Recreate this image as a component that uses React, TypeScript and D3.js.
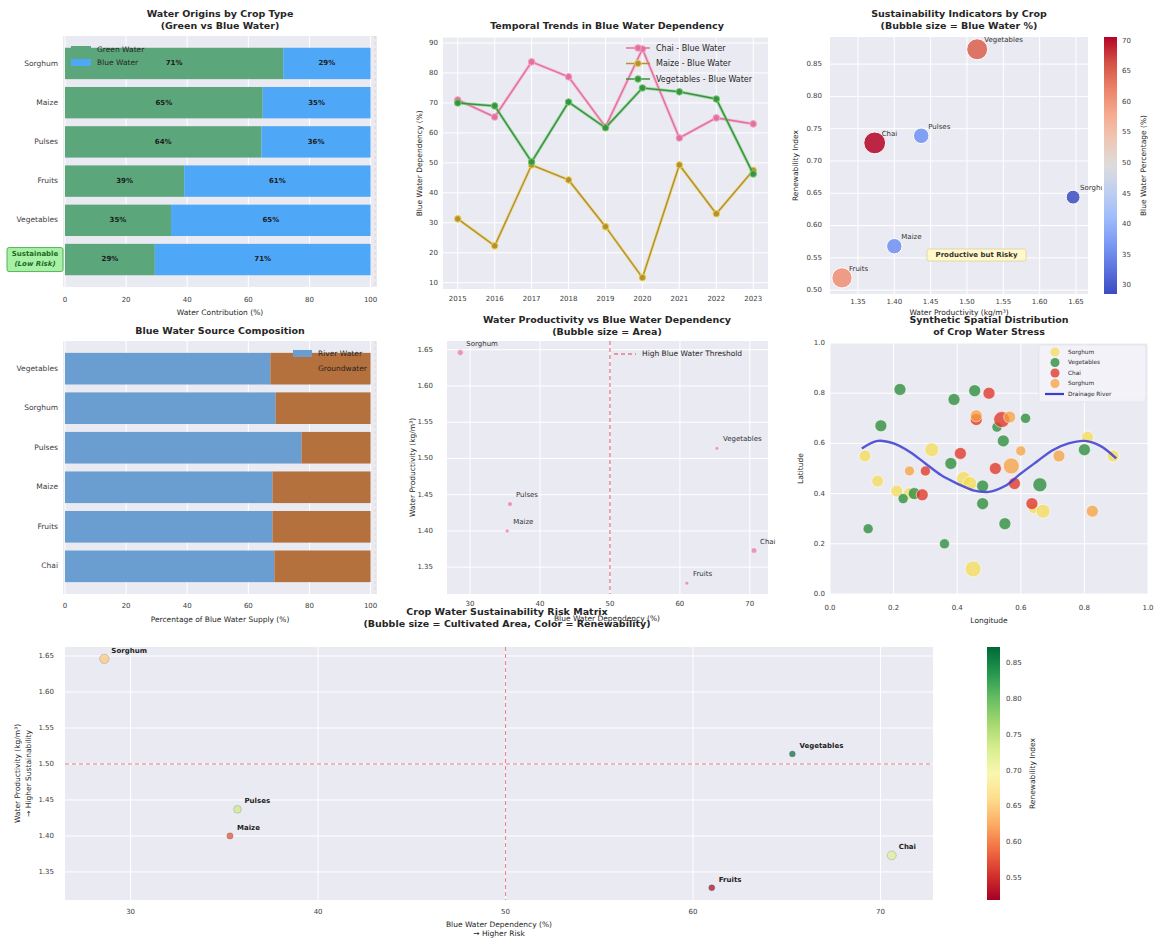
import React from "react";
import * as d3 from "d3";

const FONT = "'DejaVu Sans', Verdana, sans-serif";
const AX_BG = "#EAEAF2";
const INK = "#262626";
const TICK_INK = "#3d3d3d";

// ---- crop-level indicators ----
const crops = ["Sorghum", "Maize", "Pulses", "Fruits", "Vegetables", "Chai"];
const blueWaterPct = [28.6, 35.3, 35.7, 61.0, 65.3, 70.6];
const greenWaterPct = [71.4, 64.7, 64.3, 39.0, 34.7, 29.4];
const waterProductivity = [1.646, 1.4, 1.437, 1.328, 1.514, 1.373];
const renewabilityIndex = [0.644, 0.568, 0.739, 0.519, 0.873, 0.728];
const cultivatedArea = [36, 16, 24, 15, 14, 32];

// ---- blue water sources ----
const sourceCrops = ["Vegetables", "Sorghum", "Pulses", "Maize", "Fruits", "Chai"];
const riverWaterPct = [67.2, 68.9, 77.4, 67.9, 67.9, 68.5];
const groundwaterPct = [32.8, 31.1, 22.6, 32.1, 32.1, 31.5];

// ---- yearly blue water dependency ----
const years = [2015, 2016, 2017, 2018, 2019, 2020, 2021, 2022, 2023];
const chaiTrend = [71.0, 65.3, 83.7, 78.7, 62.0, 88.0, 58.3, 65.0, 63.0];
const maizeTrend = [31.3, 22.3, 49.3, 44.3, 28.7, 11.7, 49.3, 33.0, 47.5];
const vegetablesTrend = [70.0, 69.0, 50.3, 70.3, 61.7, 75.0, 73.7, 71.3, 46.3];

// ---- synthetic spatial sample: [longitude, latitude, stress] ----
const spatialYellow: [number, number, number][] = [
  [0.11, 0.55, 0.56], [0.15, 0.45, 0.56], [0.21, 0.41, 0.56], [0.25, 0.4, 0.56],
  [0.32, 0.575, 0.77], [0.42, 0.46, 0.77], [0.44, 0.44, 0.77], [0.45, 0.1, 1.0],
  [0.64, 0.34, 0.4], [0.67, 0.33, 0.77], [0.81, 0.625, 0.56], [0.89, 0.55, 0.56],
];
const spatialGreen: [number, number, number][] = [
  [0.12, 0.26, 0.4], [0.16, 0.67, 0.56], [0.22, 0.815, 0.56], [0.23, 0.38, 0.4],
  [0.265, 0.4, 0.56], [0.36, 0.2, 0.4], [0.38, 0.52, 0.56], [0.39, 0.775, 0.56],
  [0.455, 0.81, 0.56], [0.48, 0.43, 0.56], [0.48, 0.36, 0.56], [0.525, 0.665, 0.4],
  [0.545, 0.61, 0.56], [0.55, 0.28, 0.56], [0.615, 0.7, 0.4], [0.66, 0.435, 0.77],
  [0.8, 0.575, 0.56],
];
const spatialRed: [number, number, number][] = [
  [0.29, 0.395, 0.56], [0.3, 0.49, 0.4], [0.41, 0.56, 0.56], [0.46, 0.695, 0.56],
  [0.5, 0.8, 0.56], [0.52, 0.5, 0.56], [0.54, 0.695, 1.0], [0.58, 0.44, 0.56],
  [0.635, 0.36, 0.56],
];
const spatialOrange: [number, number, number][] = [
  [0.25, 0.49, 0.4], [0.46, 0.71, 0.56], [0.565, 0.705, 0.56], [0.57, 0.51, 1.0],
  [0.6, 0.57, 0.4], [0.72, 0.55, 0.56], [0.825, 0.33, 0.56],
];
const riverLon = [0.1, 0.15, 0.2, 0.25, 0.3, 0.35, 0.4, 0.45, 0.5, 0.55, 0.6, 0.65, 0.7, 0.75, 0.8, 0.85, 0.9];
const riverLat = [0.58, 0.61, 0.6, 0.567, 0.52, 0.473, 0.44, 0.413, 0.407, 0.43, 0.48, 0.527, 0.573, 0.6, 0.61, 0.59, 0.54];

// ---- tick values ----
const pctTicks = [0, 20, 40, 60, 80, 100];
const trendTicks = [10, 20, 30, 40, 50, 60, 70, 80, 90];
const prodTicks = [1.35, 1.4, 1.45, 1.5, 1.55, 1.6, 1.65];
const renewTicks = [0.5, 0.55, 0.6, 0.65, 0.7, 0.75, 0.8, 0.85];
const renewBarTicks = [0.55, 0.6, 0.65, 0.7, 0.75, 0.8, 0.85];
const blueBarTicks = [30, 35, 40, 45, 50, 55, 60, 65, 70];
const depTicks = [30, 40, 50, 60, 70];
const unitTicks = [0, 0.2, 0.4, 0.6, 0.8, 1.0];

const coolwarm = d3
  .scaleLinear<string>()
  .domain([0, 1 / 6, 2 / 6, 3 / 6, 4 / 6, 5 / 6, 1])
  .range(["#3b4cc0", "#6f92f3", "#aac7fd", "#dddcdc", "#f7b89c", "#e7745b", "#b40426"])
  .interpolate(d3.interpolateLab);

type Box = { l: number; r: number; t: number; b: number };

function Txt(p: any) {
  return <text fontFamily={FONT} fill={INK} {...p} />;
}

function Title({ x, lines, y }: { x: number; lines: string[]; y: number }) {
  return (
    <g>
      {lines.map((s, i) => (
        <Txt key={i} x={x} y={y + i * 12} textAnchor="middle" fontSize={9.5} fontWeight="bold" dominantBaseline="middle">
          {s}
        </Txt>
      ))}
    </g>
  );
}

function AxesBg({ box }: { box: Box }) {
  return <rect x={box.l} y={box.t} width={box.r - box.l} height={box.b - box.t} fill={AX_BG} />;
}

function VGrid({ box, xs }: { box: Box; xs: number[] }) {
  return (
    <g>
      {xs.map((x, i) => (
        <line key={i} x1={x} x2={x} y1={box.t} y2={box.b} stroke="#fff" strokeWidth={1} />
      ))}
    </g>
  );
}
function HGrid({ box, ys }: { box: Box; ys: number[] }) {
  return (
    <g>
      {ys.map((y, i) => (
        <line key={i} y1={y} y2={y} x1={box.l} x2={box.r} stroke="#fff" strokeWidth={1} />
      ))}
    </g>
  );
}
function XLabels({ vals, sx, y, fmt }: { vals: number[]; sx: (v: number) => number; y: number; fmt: (v: number) => string }) {
  return (
    <g>
      {vals.map((v, i) => (
        <Txt key={i} x={sx(v)} y={y} textAnchor="middle" fontSize={7} fill={TICK_INK} dominantBaseline="middle">
          {fmt(v)}
        </Txt>
      ))}
    </g>
  );
}
function YLabels({ vals, sy, x, fmt, anchor = "end" }: { vals: number[]; sy: (v: number) => number; x: number; fmt: (v: number) => string; anchor?: string }) {
  return (
    <g>
      {vals.map((v, i) => (
        <Txt key={i} x={x} y={sy(v)} textAnchor={anchor} fontSize={7} fill={TICK_INK} dominantBaseline="middle">
          {fmt(v)}
        </Txt>
      ))}
    </g>
  );
}
function RotLabel({ x, y, children, size = 7.5 }: any) {
  return (
    <Txt x={x} y={y} transform={`rotate(-90 ${x} ${y})`} textAnchor="middle" fontSize={size} fill={INK} dominantBaseline="middle">
      {children}
    </Txt>
  );
}

const f2 = (v: number) => v.toFixed(2);
const f1 = (v: number) => v.toFixed(1);
const f0 = (v: number) => String(v);

// ---------------- panel 1: green vs blue ----------------
function WaterOrigins() {
  const box: Box = { l: 63, r: 377, t: 36, b: 287 };
  const x = d3.scaleLinear().domain([-0.65, 102.1]).range([box.l, box.r]);
  const y = d3.scaleLinear().domain([-0.7, 5.7]).range([box.t, box.b]);
  const bh = 0.8 * (y(1) - y(0));
  return (
    <g>
      <Title x={220} y={14} lines={["Water Origins by Crop Type", "(Green vs Blue Water)"]} />
      <AxesBg box={box} />
      <VGrid box={box} xs={pctTicks.map(x)} />
      <line x1={x(101.5)} x2={x(101.5)} y1={box.t} y2={box.b} stroke="#f4a460" strokeOpacity={0.35} strokeDasharray="3,3" />
      {crops.map((c, i) => (
        <g key={c}>
          <rect x={x(0)} y={y(i) - bh / 2} width={x(greenWaterPct[i]) - x(0)} height={bh} fill="#5ba67a" />
          <rect x={x(greenWaterPct[i])} y={y(i) - bh / 2} width={x(100) - x(greenWaterPct[i])} height={bh} fill="#4ea8f7" />
          <Txt x={x(greenWaterPct[i] / 2)} y={y(i)} textAnchor="middle" dominantBaseline="middle" fontSize={7} fontWeight="bold" fill="#1b1b1b">
            {Math.round(greenWaterPct[i])}%
          </Txt>
          <Txt x={x(greenWaterPct[i] + blueWaterPct[i] / 2)} y={y(i)} textAnchor="middle" dominantBaseline="middle" fontSize={7} fontWeight="bold" fill="#1b1b1b">
            {Math.round(blueWaterPct[i])}%
          </Txt>
          {i < crops.length - 1 && (
            <Txt x={58} y={y(i)} textAnchor="end" dominantBaseline="middle" fontSize={7.5} fill={TICK_INK}>
              {c}
            </Txt>
          )}
        </g>
      ))}
      {/* highlighted low-risk row */}
      <rect x={7} y={y(5) - 12} width={56} height={24} rx={2} fill="#90ee90" fillOpacity={0.8} stroke="#3ea03e" strokeWidth={0.8} />
      <Txt x={35} y={y(5) - 5} textAnchor="middle" dominantBaseline="middle" fontSize={7} fontWeight="bold" fill="#1e6b1e">Sustainable</Txt>
      <Txt x={35} y={y(5) + 5} textAnchor="middle" dominantBaseline="middle" fontSize={7} fontWeight="bold" fontStyle="italic" fill="#1e6b1e">(Low Risk)</Txt>
      {/* legend */}
      <rect x={71} y={46} width={20} height={7} fill="#5ba67a" />
      <Txt x={97} y={50} dominantBaseline="middle" fontSize={7.5}>Green Water</Txt>
      <rect x={71} y={59} width={20} height={7} fill="#4ea8f7" />
      <Txt x={97} y={63} dominantBaseline="middle" fontSize={7.5}>Blue Water</Txt>
      <XLabels vals={pctTicks} sx={x} y={300} fmt={f0} />
      <Txt x={(box.l + box.r) / 2} y={313} textAnchor="middle" dominantBaseline="middle" fontSize={7.5}>Water Contribution (%)</Txt>
    </g>
  );
}

// ---------------- panel 2: temporal trends ----------------
function TemporalTrends() {
  const box: Box = { l: 443, r: 768, t: 37.6, b: 289 };
  const x = d3.scaleLinear().domain([2014.6, 2023.4]).range([box.l, box.r]);
  const y = d3.scaleLinear().domain([7.9, 91.8]).range([box.b, box.t]);
  const line = d3.line<number>().x((_, i) => x(years[i])).y((d) => y(d));
  const series = [
    { name: "Chai - Blue Water", vals: chaiTrend, col: "#e2719c", halo: "#f5a3c2" },
    { name: "Maize - Blue Water", vals: maizeTrend, col: "#b39236", halo: "#f0d34a" },
    { name: "Vegetables - Blue Water", vals: vegetablesTrend, col: "#3f8f45", halo: "#66d46a" },
  ];
  return (
    <g>
      <Title x={607} y={26} lines={["Temporal Trends in Blue Water Dependency"]} />
      <AxesBg box={box} />
      <VGrid box={box} xs={years.map(x)} />
      <HGrid box={box} ys={trendTicks.map(y)} />
      {series.map((s) => (
        <g key={s.name}>
          <path d={line(s.vals) || ""} fill="none" stroke={s.halo} strokeWidth={3.2} strokeOpacity={0.55} />
          <path d={line(s.vals) || ""} fill="none" stroke={s.col} strokeWidth={1.5} />
          {s.vals.map((v, i) => (
            <circle key={i} cx={x(years[i])} cy={y(v)} r={3.3} fill={s.col} stroke={s.halo} strokeWidth={1} />
          ))}
        </g>
      ))}
      {series.map((s, i) => (
        <g key={s.name}>
          <line x1={626} x2={650} y1={48 + i * 15.5} y2={48 + i * 15.5} stroke={s.col} strokeWidth={1.5} />
          <circle cx={638} cy={48 + i * 15.5} r={3.3} fill={s.col} stroke={s.halo} strokeWidth={1} />
          <Txt x={656} y={48 + i * 15.5} dominantBaseline="middle" fontSize={8}>{s.name}</Txt>
        </g>
      ))}
      <XLabels vals={years} sx={x} y={299} fmt={f0} />
      <YLabels vals={trendTicks} sy={y} x={438} fmt={f0} />
      <RotLabel x={420} y={(box.t + box.b) / 2}>Blue Water Dependency (%)</RotLabel>
    </g>
  );
}

// ---------------- panel 3: sustainability bubbles ----------------
function SustainabilityIndicators() {
  const box: Box = { l: 830, r: 1088, t: 37, b: 294 };
  const x = d3.scaleLinear().domain([1.3115, 1.6665]).range([box.l, box.r]);
  const y = d3.scaleLinear().domain([0.494, 0.892]).range([box.b, box.t]);
  const [bmin, bmax] = d3.extent(blueWaterPct) as [number, number];
  const norm = d3.scaleLinear().domain([bmin, bmax]).range([0, 1]);
  const cb = d3.scaleLinear().domain([bmin, bmax]).range([box.b, box.t]);
  const order = d3.range(crops.length);
  return (
    <g>
      <defs>
        <linearGradient id="cwGrad" x1="0" y1="1" x2="0" y2="0">
          {d3.range(0, 1.001, 0.1).map((t) => (
            <stop key={t} offset={t} stopColor={coolwarm(t)} />
          ))}
        </linearGradient>
        <clipPath id="p3clip">
          <rect x={box.l - 40} y={0} width={1102 - box.l + 40} height={320} />
        </clipPath>
      </defs>
      <Title x={959} y={14} lines={["Sustainability Indicators by Crop", "(Bubble size = Blue Water %)"]} />
      <AxesBg box={box} />
      <VGrid box={box} xs={prodTicks.map(x)} />
      <HGrid box={box} ys={renewTicks.map(y)} />
      <g clipPath="url(#p3clip)">
        {order.map((i) => (
          <g key={crops[i]}>
            <circle cx={x(waterProductivity[i])} cy={y(renewabilityIndex[i])} r={1.3 * Math.sqrt(blueWaterPct[i])} fill={coolwarm(norm(blueWaterPct[i]))} fillOpacity={0.85} stroke="#fff" strokeWidth={1} />
            <Txt x={x(waterProductivity[i]) + 7} y={y(renewabilityIndex[i]) - 7} fontSize={7} fill="#333">{crops[i]}</Txt>
          </g>
        ))}
      </g>
      <rect x={927} y={249} width={99} height={12} rx={2} fill="#fff8c8" stroke="#d8c88a" strokeWidth={0.6} />
      <Txt x={976.5} y={255.5} textAnchor="middle" dominantBaseline="middle" fontSize={7} fontWeight="bold" fill="#333">Productive but Risky</Txt>
      <XLabels vals={prodTicks} sx={x} y={302} fmt={f2} />
      <YLabels vals={renewTicks} sy={y} x={822} fmt={f2} />
      <RotLabel x={796} y={(box.t + box.b) / 2}>Renewability Index</RotLabel>
      <Txt x={959} y={313} textAnchor="middle" dominantBaseline="middle" fontSize={7.5}>Water Productivity (kg/m³)</Txt>
      {/* colour bar */}
      <rect x={1104} y={box.t} width={13} height={box.b - box.t} fill="url(#cwGrad)" />
      <YLabels vals={blueBarTicks} sy={cb} x={1122} fmt={f0} anchor="start" />
      <RotLabel x={1144} y={(box.t + box.b) / 2}>Blue Water Percentage (%)</RotLabel>
    </g>
  );
}

// ---------------- panel 4: blue water sources ----------------
function SourceComposition() {
  const box: Box = { l: 63, r: 377, t: 341, b: 594 };
  const x = d3.scaleLinear().domain([-0.65, 102.1]).range([box.l, box.r]);
  const y = d3.scaleLinear().domain([-0.7, 5.7]).range([box.t, box.b]);
  const bh = 0.8 * (y(1) - y(0));
  return (
    <g>
      <Title x={220} y={331} lines={["Blue Water Source Composition"]} />
      <AxesBg box={box} />
      <VGrid box={box} xs={pctTicks.map(x)} />
      <line x1={x(101.5)} x2={x(101.5)} y1={box.t} y2={box.b} stroke="#f4a460" strokeOpacity={0.3} strokeDasharray="3,3" />
      {sourceCrops.map((c, i) => (
        <g key={c}>
          <rect x={x(0)} y={y(i) - bh / 2} width={x(riverWaterPct[i]) - x(0)} height={bh} fill="#6a9dd0" />
          <rect x={x(riverWaterPct[i])} y={y(i) - bh / 2} width={x(riverWaterPct[i] + groundwaterPct[i]) - x(riverWaterPct[i])} height={bh} fill="#b4703d" />
          <Txt x={58} y={y(i)} textAnchor="end" dominantBaseline="middle" fontSize={7.5} fill={TICK_INK}>{c}</Txt>
        </g>
      ))}
      <rect x={293} y={350} width={19} height={7} fill="#6a9dd0" />
      <Txt x={318} y={354} dominantBaseline="middle" fontSize={7.5}>River Water</Txt>
      <rect x={293} y={365} width={19} height={7} fill="#b4703d" />
      <Txt x={318} y={369} dominantBaseline="middle" fontSize={7.5}>Groundwater</Txt>
      <XLabels vals={pctTicks} sx={x} y={606} fmt={f0} />
      <Txt x={(box.l + box.r) / 2} y={620} textAnchor="middle" dominantBaseline="middle" fontSize={7.5}>Percentage of Blue Water Supply (%)</Txt>
    </g>
  );
}

// ---------------- panel 5: productivity vs dependency ----------------
function ProductivityVsDependency() {
  const box: Box = { l: 447, r: 768, t: 341, b: 594 };
  const x = d3.scaleLinear().domain([26.7, 72.6]).range([box.l, box.r]);
  const y = d3.scaleLinear().domain([1.313, 1.662]).range([box.b, box.t]);
  const r = d3.scaleSqrt().domain([0, 40]).range([0, 3.2]);
  return (
    <g>
      <Title x={607} y={320} lines={["Water Productivity vs Blue Water Dependency", "(Bubble size = Area)"]} />
      <AxesBg box={box} />
      <VGrid box={box} xs={depTicks.map(x)} />
      <HGrid box={box} ys={prodTicks.map(y)} />
      <line x1={x(50)} x2={x(50)} y1={box.t} y2={box.b} stroke="#e0405a" strokeOpacity={0.8} strokeDasharray="4,3" strokeWidth={1.1} />
      {crops.map((c, i) => (
        <g key={c}>
          <circle cx={x(blueWaterPct[i])} cy={y(waterProductivity[i])} r={r(cultivatedArea[i])} fill="#e77aa8" fillOpacity={0.75} stroke="#fff" strokeWidth={0.5} />
          <Txt x={x(blueWaterPct[i]) + 6} y={y(waterProductivity[i]) - 7} fontSize={7} fill="#333">{c}</Txt>
        </g>
      ))}
      <line x1={614} x2={636} y1={354} y2={354} stroke="#e0405a" strokeDasharray="4,3" strokeWidth={1.1} />
      <Txt x={642} y={354} dominantBaseline="middle" fontSize={7.5}>High Blue Water Threshold</Txt>
      <XLabels vals={depTicks} sx={x} y={604} fmt={f0} />
      <YLabels vals={prodTicks} sy={y} x={433} fmt={f2} />
      <RotLabel x={413} y={(box.t + box.b) / 2}>Water Productivity (kg/m³)</RotLabel>
      <Txt x={607} y={619} textAnchor="middle" dominantBaseline="middle" fontSize={7.5}>Blue Water Dependency (%)</Txt>
    </g>
  );
}

// ---------------- panel 6: spatial distribution ----------------
function SpatialDistribution() {
  const box: Box = { l: 830, r: 1148, t: 343, b: 594 };
  const x = d3.scaleLinear().domain([0, 1]).range([box.l, box.r]);
  const y = d3.scaleLinear().domain([0, 1]).range([box.b, box.t]);
  const r = d3.scaleSqrt().domain([0, 1]).range([0, 8]);
  const groups = [
    { label: "Sorghum", pts: spatialYellow, col: "#f4dc4c", op: 0.7 },
    { label: "Vegetables", pts: spatialGreen, col: "#2f8f3e", op: 0.8 },
    { label: "Chai", pts: spatialRed, col: "#e0392c", op: 0.8 },
    { label: "Sorghum", pts: spatialOrange, col: "#f5a03c", op: 0.75 },
  ];
  const river = d3.line<number>().curve(d3.curveCatmullRom).x((_, i) => x(riverLon[i])).y((d) => y(d));
  return (
    <g>
      <Title x={989} y={320} lines={["Synthetic Spatial Distribution", "of Crop Water Stress"]} />
      <AxesBg box={box} />
      <VGrid box={box} xs={unitTicks.map(x)} />
      <HGrid box={box} ys={unitTicks.map(y)} />
      {groups.map((g, gi) => (
        <g key={gi}>
          {g.pts.map((p, i) => (
            <circle key={i} cx={x(p[0])} cy={y(p[1])} r={r(p[2])} fill={g.col} fillOpacity={g.op} stroke="#fff" strokeOpacity={0.7} strokeWidth={0.8} />
          ))}
        </g>
      ))}
      <path d={river(riverLat) || ""} fill="none" stroke="#3b3bd4" strokeWidth={2.4} strokeOpacity={0.85} />
      {/* legend */}
      <rect x={1039} y={345} width={107} height={57} rx={2} fill="#f4f4f9" fillOpacity={0.8} stroke="#dcdce6" strokeWidth={0.6} />
      {groups.map((g, i) => (
        <g key={i}>
          <circle cx={1055} cy={352 + i * 10.5} r={4.5} fill={g.col} fillOpacity={g.op} />
          <Txt x={1068} y={352 + i * 10.5} dominantBaseline="middle" fontSize={5.8}>{g.label}</Txt>
        </g>
      ))}
      <line x1={1045} x2={1064} y1={394} y2={394} stroke="#3b3bd4" strokeWidth={2.2} />
      <Txt x={1068} y={394} dominantBaseline="middle" fontSize={5.8}>Drainage River</Txt>
      <XLabels vals={unitTicks} sx={x} y={608} fmt={f1} />
      <YLabels vals={unitTicks} sy={y} x={825} fmt={f1} />
      <RotLabel x={801} y={(box.t + box.b) / 2}>Latitude</RotLabel>
      <Txt x={989} y={621} textAnchor="middle" dominantBaseline="middle" fontSize={7.5}>Longitude</Txt>
    </g>
  );
}

// ---------------- bottom: risk matrix ----------------
function RiskMatrix() {
  const box: Box = { l: 65, r: 933, t: 647, b: 900 };
  const x = d3.scaleLinear().domain([26.5, 72.8]).range([box.l, box.r]);
  const y = d3.scaleLinear().domain([1.311, 1.6625]).range([box.b, box.t]);
  const [rmin, rmax] = d3.extent(renewabilityIndex) as [number, number];
  const norm = d3.scaleLinear().domain([rmin, rmax]).range([0, 1]);
  const cb = d3.scaleLinear().domain([rmin, rmax]).range([box.b, box.t]);
  const r = d3.scaleSqrt().domain([0, 40]).range([0, 5]);
  return (
    <g>
      <defs>
        <linearGradient id="rygGrad" x1="0" y1="1" x2="0" y2="0">
          {d3.range(0, 1.001, 0.1).map((t) => (
            <stop key={t} offset={t} stopColor={d3.interpolateRdYlGn(t)} />
          ))}
        </linearGradient>
      </defs>
      <AxesBg box={box} />
      <VGrid box={box} xs={depTicks.map(x)} />
      <HGrid box={box} ys={prodTicks.map(y)} />
      <line x1={x(50)} x2={x(50)} y1={box.t} y2={box.b} stroke="#e8505e" strokeOpacity={0.75} strokeDasharray="4,3" strokeWidth={1} />
      <line x1={box.l} x2={box.r} y1={y(1.5)} y2={y(1.5)} stroke="#e8505e" strokeOpacity={0.75} strokeDasharray="4,3" strokeWidth={1} />
      {crops.map((c, i) => (
        <g key={c}>
          <circle cx={x(blueWaterPct[i])} cy={y(waterProductivity[i])} r={r(cultivatedArea[i])} fill={d3.interpolateRdYlGn(norm(renewabilityIndex[i]))} fillOpacity={0.7} stroke="#444" strokeOpacity={0.4} strokeWidth={0.5} />
          <Txt x={x(blueWaterPct[i]) + 7} y={y(waterProductivity[i]) - 6} fontSize={7} fontWeight="bold" fill="#222">{c}</Txt>
        </g>
      ))}
      <Title x={507} y={612} lines={["Crop Water Sustainability Risk Matrix", "(Bubble size = Cultivated Area, Color = Renewability)"]} />
      <XLabels vals={depTicks} sx={x} y={912} fmt={f0} />
      <YLabels vals={prodTicks} sy={y} x={54} fmt={f2} />
      <Txt x={(box.l + box.r) / 2} y={925} textAnchor="middle" dominantBaseline="middle" fontSize={7.5}>Blue Water Dependency (%)</Txt>
      <Txt x={(box.l + box.r) / 2} y={934} textAnchor="middle" dominantBaseline="middle" fontSize={7.5}>→ Higher Risk</Txt>
      <RotLabel x={18} y={(box.t + box.b) / 2}>Water Productivity (kg/m³)</RotLabel>
      <RotLabel x={29} y={(box.t + box.b) / 2}>→ Higher Sustainability</RotLabel>
      <rect x={987} y={box.t} width={13} height={box.b - box.t} fill="url(#rygGrad)" />
      <YLabels vals={renewBarTicks} sy={cb} x={1006} fmt={f2} anchor="start" />
      <RotLabel x={1033} y={(box.t + box.b) / 2}>Renewability Index</RotLabel>
    </g>
  );
}

export default function App() {
  return (
    <svg width={1161} height={939} viewBox="0 0 1161 939" style={{ position: "absolute", left: 0, top: 0, background: "#fff" }}>
      <rect width={1161} height={939} fill="#fff" />
      <WaterOrigins />
      <TemporalTrends />
      <SustainabilityIndicators />
      <SourceComposition />
      <ProductivityVsDependency />
      <SpatialDistribution />
      <RiskMatrix />
    </svg>
  );
}
